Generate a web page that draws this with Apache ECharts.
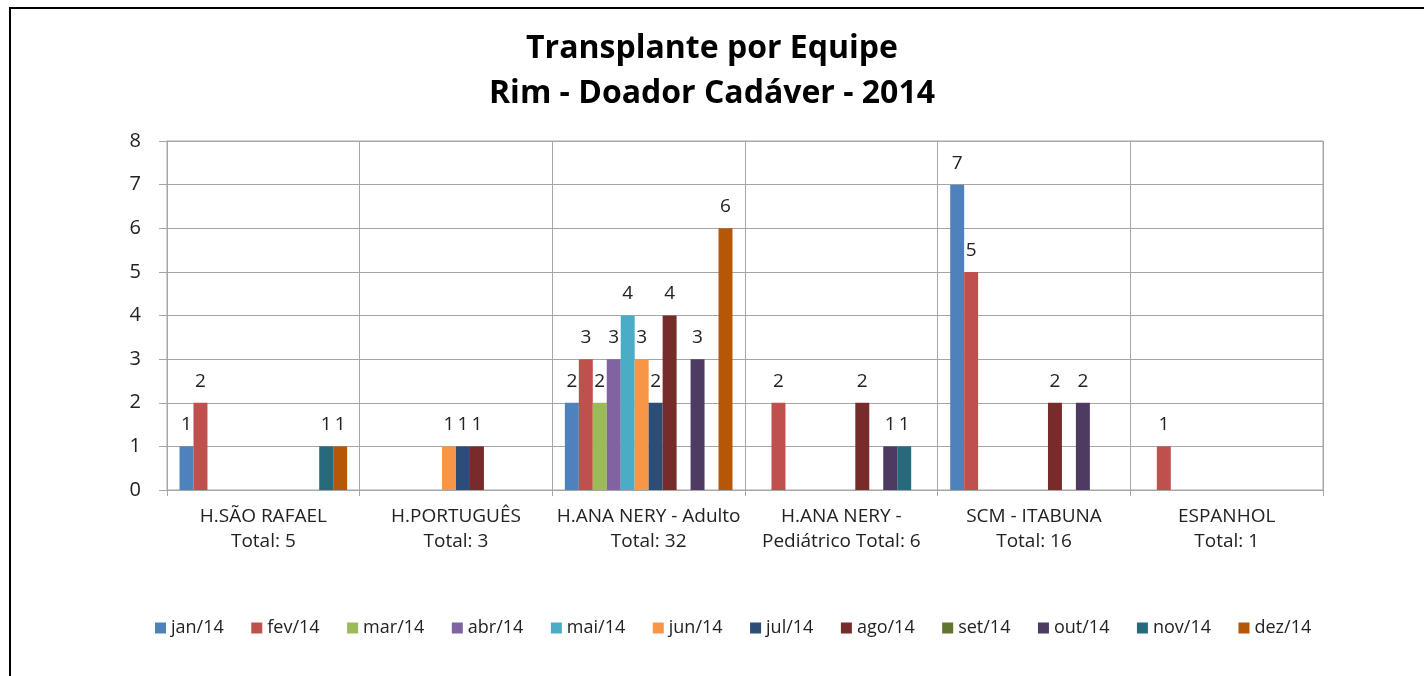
<!DOCTYPE html>
<html>
<head>
<meta charset="utf-8">
<script src="https://cdn.jsdelivr.net/npm/echarts@6/dist/echarts.min.js"></script>
<style>
  html, body { margin: 0; padding: 0; background: #fff; }
  #chart { width: 1424px; height: 676px; }
</style>
</head>
<body>
<div id="chart"></div>
<script>
var equipes = [
    'H.SÃO RAFAEL\nTotal: 5',
    'H.PORTUGUÊS\nTotal: 3',
    'H.ANA NERY - Adulto\nTotal: 32',
    'H.ANA NERY -\nPediátrico Total: 6',
    'SCM - ITABUNA\nTotal: 16',
    'ESPANHOL\nTotal: 1'
];
var meses = ['jan/14', 'fev/14', 'mar/14', 'abr/14', 'mai/14', 'jun/14',
             'jul/14', 'ago/14', 'set/14', 'out/14', 'nov/14', 'dez/14'];
var cores = ['#4F81BD', '#C0504D', '#9BBB59', '#8064A2', '#4BACC6', '#F79646',
             '#2C4D75', '#772C2A', '#5F7530', '#4D3B62', '#276A7C', '#B65708'];

// valores por mes, na ordem das equipes
var jan = [1, 0, 2, 0, 7, 0];
var fev = [2, 0, 3, 2, 5, 1];
var mar = [0, 0, 2, 0, 0, 0];
var abr = [0, 0, 3, 0, 0, 0];
var mai = [0, 0, 4, 0, 0, 0];
var jun = [0, 1, 3, 0, 0, 0];
var jul = [0, 1, 2, 0, 0, 0];
var ago = [0, 1, 4, 2, 2, 0];
var set = [0, 0, 0, 0, 0, 0];
var out = [0, 0, 3, 1, 2, 0];
var nov = [1, 0, 0, 1, 0, 0];
var dez = [1, 0, 6, 0, 0, 0];
var valores = [jan, fev, mar, abr, mai, jun, jul, ago, set, out, nov, dez];

var fonte = 'Open Sans';

var chart = echarts.init(document.getElementById('chart'));

var option = {
    animation: false,
    color: cores,
    title: {
        text: 'Transplante por Equipe\nRim - Doador Cadáver - 2014',
        left: 'center',
        top: 21,
        textStyle: {
            fontFamily: fonte,
            fontSize: 32,
            fontWeight: 'bold',
            color: '#000',
            lineHeight: 45
        }
    },
    graphic: [{
        type: 'rect',
        shape: { x: 10, y: 8, width: 1430, height: 700 },
        style: { fill: 'none', stroke: '#000', lineWidth: 2 }
    }],
    legend: {
        data: meses,
        bottom: 34,
        left: 150,
        itemWidth: 11,
        itemHeight: 11,
        itemGap: 27.5,
        icon: 'rect',
        textStyle: { fontFamily: fonte, fontSize: 18, color: '#222' }
    },
    grid: {
        left: 167,
        right: 101,
        top: 141,
        bottom: 186,
        show: true,
        borderColor: '#A6A6A6',
        borderWidth: 1
    },
    xAxis: {
        type: 'category',
        data: equipes,
        axisLine: { lineStyle: { color: '#A6A6A6' } },
        axisTick: { show: true, length: 6, lineStyle: { color: '#A6A6A6' } },
        splitLine: { show: true, interval: 0, lineStyle: { color: '#A6A6A6' } },
        axisLabel: {
            interval: 0,
            margin: 14,
            fontFamily: fonte,
            fontSize: 19,
            lineHeight: 25,
            color: '#222'
        }
    },
    yAxis: {
        type: 'value',
        min: 0,
        max: 8,
        interval: 1,
        axisLine: { show: true, lineStyle: { color: '#A6A6A6' } },
        axisTick: { show: true, length: 8, lineStyle: { color: '#A6A6A6' } },
        splitLine: { lineStyle: { color: '#A6A6A6' } },
        axisLabel: {
            margin: 26,
            fontFamily: fonte,
            fontSize: 20,
            color: '#222'
        }
    },
    series: meses.map(function (m, i) {
        return {
            name: m,
            type: 'bar',
            data: valores[i],
            barGap: '0%',
            barCategoryGap: '13%',
            label: {
                show: true,
                position: 'top',
                distance: 12,
                fontFamily: fonte,
                fontSize: 19,
                color: '#222',
                formatter: function (p) { return p.value ? p.value : ''; }
            }
        };
    })
};

chart.setOption(option);
</script>
</body>
</html>
